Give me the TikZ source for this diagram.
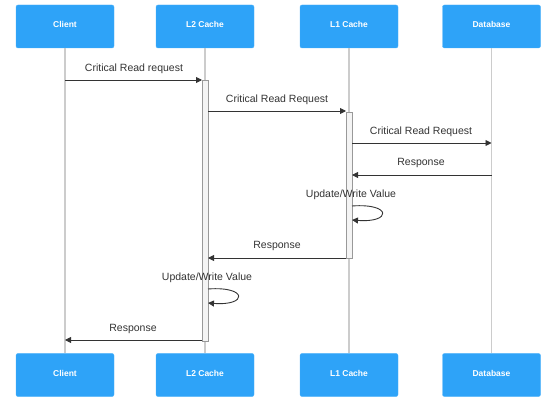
\documentclass[tikz,border=0pt]{standalone}
\usepackage{fontspec}
\setmainfont{Liberation Sans}
\usetikzlibrary{arrows.meta}
\definecolor{actorblue}{HTML}{2EA3F8}
\definecolor{lifegray}{HTML}{CCCCCC}
\definecolor{msgdark}{HTML}{333333}
\definecolor{actfill}{HTML}{F4F4F4}
\definecolor{actedge}{HTML}{999999}
\tikzset{
  actor/.style={draw=actorblue!85!white, fill=actorblue, rounded corners=2pt,
    minimum width=98pt, minimum height=43pt, inner sep=0pt,
    text height=6.2pt, text depth=4pt,
    text=white, font=\fontsize{8.5}{10}\selectfont\bfseries},
  lifeline/.style={draw=lifegray, line width=1.2pt},
  actbar/.style={draw=actedge, fill=actfill, line width=0.6pt},
  msg/.style={draw=msgdark, line width=0.9pt, -{Triangle[length=6pt,width=6pt]}},
  msglabel/.style={font=\fontsize{10.5}{12}\selectfont, text=msgdark, inner sep=0pt, anchor=base}
}
\begin{document}
\begin{tikzpicture}[x=1pt,y=-1pt]
\useasboundingbox (0,0) rectangle (541,403);

% participants, top and bottom
\node[actor] (clientT) at (65,26.5) {Client};
\node[actor] (l2T) at (205,26.5) {L2 Cache};
\node[actor] (l1T) at (349,26.5) {L1 Cache};
\node[actor] (dbT) at (491.5,26.5) {Database};
\node[actor] (clientB) at (65,375) {Client};
\node[actor] (l2B) at (205,375) {L2 Cache};
\node[actor] (l1B) at (349,375) {L1 Cache};
\node[actor] (dbB) at (491.5,375) {Database};

% lifelines
\draw[lifeline] (clientT.south) -- (clientB.north);
\draw[lifeline] (l2T.south) -- (l2B.north);
\draw[lifeline] (l1T.south) -- (l1B.north);
\draw[lifeline] (dbT.south) -- (dbB.north);

% activation bars
\node[actbar, minimum width=6pt, minimum height=261pt, inner sep=0pt, anchor=north] (l2act) at (205,80) {};
\node[actbar, minimum width=6pt, minimum height=146pt, inner sep=0pt, anchor=north] (l1act) at (349,112) {};

% message end points
\coordinate (m1a) at (65,80);   \coordinate (m1b) at (202,80);
\coordinate (m2a) at (208,111); \coordinate (m2b) at (346,111);
\coordinate (m3a) at (352,143); \coordinate (m3b) at (491.5,143);
\coordinate (m4a) at (491.5,175); \coordinate (m4b) at (352,175);
\coordinate (s1a) at (352,206); \coordinate (s1b) at (352,220);
\coordinate (m6a) at (346,258); \coordinate (m6b) at (208,258);
\coordinate (s2a) at (208,289); \coordinate (s2b) at (208,303);
\coordinate (m8a) at (202,340); \coordinate (m8b) at (65,340);

% messages
\draw[msg] (m1a) -- (m1b);
\node[msglabel] at (134,72) {Critical Read request};
\draw[msg] (m2a) -- (m2b);
\node[msglabel] at (277,103) {Critical Read Request};
\draw[msg] (m3a) -- (m3b);
\node[msglabel] at (421,135) {Critical Read Request};
\draw[msg] (m4a) -- (m4b);
\node[msglabel] at (421,166) {Response};
\draw[msg] (s1a) .. controls (392,203) and (392,223) .. (s1b);
\node[msglabel] at (351,198) {Update/Write Value};
\draw[msg] (m6a) -- (m6b);
\node[msglabel] at (277,249) {Response};
\draw[msg] (s2a) .. controls (248,286) and (248,306) .. (s2b);
\node[msglabel] at (207,281) {Update/Write Value};
\draw[msg] (m8a) -- (m8b);
\node[msglabel] at (133,332) {Response};
\end{tikzpicture}
\end{document}
